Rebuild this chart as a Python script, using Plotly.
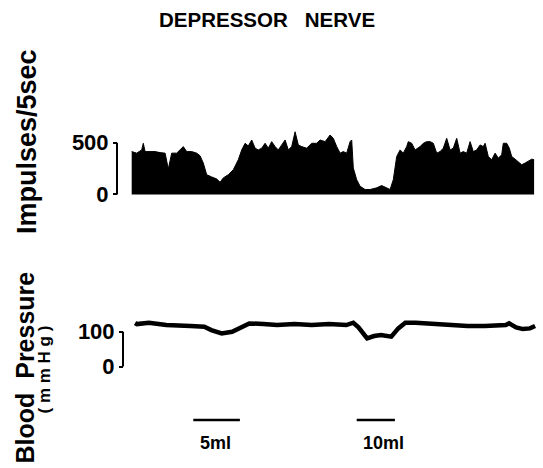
import plotly.graph_objects as go

# ---- data (time in seconds) ----
imp_t = [0, 25, 50, 58, 67, 92, 117, 142, 167, 183, 200, 225, 258, 275, 300, 325, 342, 358,
         375, 400, 425, 442, 458, 483, 508, 533, 550, 567, 583, 600, 617, 633, 650, 667, 683,
         700, 717, 733, 750, 767, 783, 800, 817, 833, 850, 875, 900, 925, 942, 967, 992, 1008,
         1025, 1042, 1058, 1075, 1092, 1100, 1108, 1125, 1142, 1167, 1192, 1225, 1250, 1275,
         1292, 1308, 1325, 1342, 1358, 1375, 1383, 1400, 1417, 1442, 1458, 1475, 1492, 1508,
         1525, 1542, 1558, 1575, 1592, 1608, 1625, 1642, 1658, 1675, 1692, 1708, 1725, 1742,
         1758, 1767, 1783, 1800, 1817, 1833, 1850, 1858, 1875, 1888, 1900, 1917, 1933, 1950,
         1967, 1983, 2000, 2012]
imp_v = [414, 399, 430, 494, 414, 414, 414, 404, 399, 246, 399, 399, 462, 414, 414, 399, 373, 303,
         191, 169, 150, 118, 160, 191, 239, 335, 430, 494, 468, 526, 447, 430, 447, 494, 447,
         510, 462, 430, 478, 526, 430, 462, 605, 478, 462, 447, 494, 494, 526, 510, 574, 542,
         462, 399, 414, 399, 510, 526, 255, 143, 79, 48, 48, 64, 86, 64,
         48, 143, 366, 430, 399, 462, 510, 494, 430, 462, 494, 510, 510, 494,
         399, 414, 447, 542, 430, 447, 542, 399, 414, 399, 510, 414, 430, 478,
         462, 494, 366, 335, 399, 351, 383, 494, 494, 447, 366, 341, 319, 287,
         303, 319, 341, 335]

bp_t = [17, 26, 86, 173, 294, 363, 398, 450, 502, 537, 588, 658, 727, 814, 900, 987, 1073,
        1108, 1134, 1177, 1212, 1246, 1298, 1333, 1368, 1420, 1506, 1593, 1679, 1766, 1870,
        1887, 1922, 1956, 1991, 2017]
bp_v = [125, 121.9, 125.7, 119, 116.2, 114.3, 104.8, 95.2, 100, 109.5, 123.8, 121.9, 119, 121.9,
        119, 121.9, 119, 125.7, 112.4, 81, 87.6, 90.5, 85.7, 109.5, 125.7, 125.7, 121.9, 119,
        116.2, 116.2, 119, 123.8, 112.4, 107.6, 109.5, 116.2]

imp_ticks = [0, 500]
bp_ticks = [0, 100]

inj_labels = ["5ml", "10ml"]
inj_start = [308, 1125]
inj_end = [541, 1316]

title_text = "DEPRESSOR   NERVE"
imp_label = "Impulses/5sec"
bp_label = "Blood  Pressure"
bp_unit = "( m m H g )"

FONT = "Liberation Sans, Arial, Helvetica, sans-serif"
W, H = 543, 468

fig = go.Figure()
fig.add_trace(go.Scatter(x=imp_t, y=imp_v, mode="lines", fill="tozeroy",
                         line=dict(color="black", width=1), fillcolor="black",
                         yaxis="y", hoverinfo="skip", showlegend=False))
fig.add_trace(go.Scatter(x=bp_t, y=bp_v, mode="lines",
                         line=dict(color="black", width=4.5),
                         yaxis="y2", hoverinfo="skip", showlegend=False))

pos1 = 117 / W
pos2 = 123 / W
axis_common = dict(showgrid=False, zeroline=False, showline=False, ticks="outside",
                   ticklen=4, tickwidth=2, tickcolor="black",
                   tickfont=dict(family=FONT, size=22, color="black", weight="bold"),
                   domain=[0, 1], anchor="free", side="left", fixedrange=True)

fig.update_layout(
    width=W, height=H, margin=dict(l=0, r=0, t=0, b=0),
    paper_bgcolor="white", plot_bgcolor="white",
    xaxis=dict(range=[-658.5, 2056.5], visible=False, domain=[0, 1], showgrid=False, zeroline=False),
    yaxis=dict(range=[-2640, 1877], tickvals=imp_ticks, position=pos1, **axis_common),
    yaxis2=dict(range=[-290.5, 1050.4], tickvals=bp_ticks, position=pos2, overlaying="y",
                **axis_common),
    showlegend=False,
)

# axis brackets
fig.add_shape(type="line", xref="paper", yref="y", x0=pos1, x1=pos1, y0=imp_ticks[0], y1=imp_ticks[1],
              line=dict(color="black", width=2))
fig.add_shape(type="line", xref="paper", yref="y2", x0=pos2, x1=pos2, y0=bp_ticks[0], y1=bp_ticks[1],
              line=dict(color="black", width=2))

# injection bars and labels
for lab, s, e in zip(inj_labels, inj_start, inj_end):
    fig.add_shape(type="line", xref="x", yref="paper", x0=s, x1=e,
                  y0=1 - 420 / H, y1=1 - 420 / H, line=dict(color="black", width=2.5))
    fig.add_annotation(x=s + 22, y=1 - 443 / H, xref="x", yref="paper", text=lab,
                       showarrow=False, xanchor="left", yanchor="middle",
                       font=dict(family=FONT, size=18, color="black", weight="bold"))

# title
fig.add_annotation(x=266.5 / W, y=1 - 20 / H, xref="paper", yref="paper", text=title_text,
                   showarrow=False, xanchor="center", yanchor="middle",
                   font=dict(family=FONT, size=20.5, color="black", weight="bold"))
# rotated axis labels
fig.add_annotation(x=27 / W, y=1 - 142 / H, xref="paper", yref="paper", text=imp_label,
                   showarrow=False, textangle=-90, xanchor="center", yanchor="middle",
                   font=dict(family=FONT, size=27, color="black", weight="bold"))
fig.add_annotation(x=24 / W, y=1 - 367.5 / H, xref="paper", yref="paper", text=bp_label,
                   showarrow=False, textangle=-90, xanchor="center", yanchor="middle",
                   font=dict(family=FONT, size=25, color="black", weight="bold"))
fig.add_annotation(x=44 / W, y=1 - 369.5 / H, xref="paper", yref="paper", text=bp_unit,
                   showarrow=False, textangle=-90, xanchor="center", yanchor="middle",
                   font=dict(family=FONT, size=17, color="black", weight="bold"))

fig.write_html("out.html")
